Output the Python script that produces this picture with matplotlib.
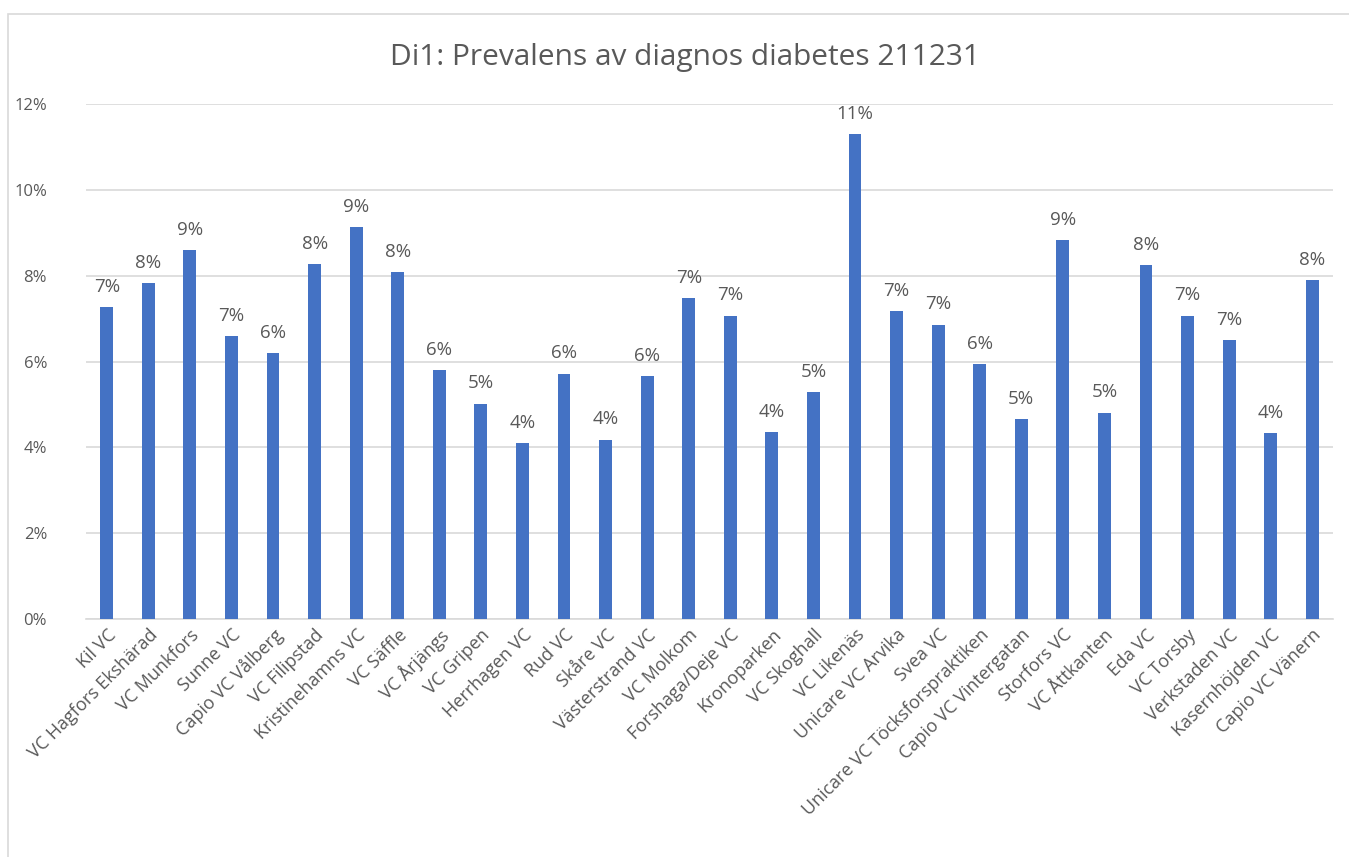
import matplotlib.pyplot as plt
from matplotlib.patches import Rectangle
from matplotlib.ticker import PercentFormatter

enheter = ['Kil VC', 'VC Hagfors Ekshärad', 'VC Munkfors', 'Sunne VC', 'Capio VC Vålberg',
           'VC Filipstad', 'Kristinehamns VC', 'VC Säffle', 'VC Årjängs', 'VC Gripen',
           'Herrhagen VC', 'Rud VC', 'Skåre VC', 'Västerstrand VC', 'VC Molkom',
           'Forshaga/Deje VC', 'Kronoparken', 'VC Skoghall', 'VC Likenäs', 'Unicare VC Arvika',
           'Svea VC', 'Unicare VC Töcksforspraktiken', 'Capio VC Vintergatan', 'Storfors VC',
           'VC Åttkanten', 'Eda VC', 'VC Torsby', 'Verkstaden VC', 'Kasernhöjden VC',
           'Capio VC Vänern']
prevalens = [0.0726, 0.0782, 0.0859, 0.0660, 0.0619, 0.0827, 0.0913, 0.0808, 0.0581, 0.0502,
             0.0411, 0.0572, 0.0418, 0.0567, 0.0748, 0.0707, 0.0435, 0.0528, 0.1130, 0.0717,
             0.0686, 0.0595, 0.0465, 0.0883, 0.0481, 0.0824, 0.0707, 0.0651, 0.0433, 0.0790]

W, H = 1349, 857
grey = '#595959'
blue = '#4472c4'
plt.rcParams['font.family'] = ['Open Sans', 'DejaVu Sans']

fig = plt.figure(figsize=(W / 100, H / 100), dpi=100)
# chart frame, open to the right and bottom edges
fig.patches.append(Rectangle((8 / W, -0.05), 1.1, 1.05 - 14 / H, transform=fig.transFigure,
                             fill=False, edgecolor='#d9d9d9', linewidth=1.2))

ax = fig.add_axes([86 / W, 1 - 619 / H, (1333 - 86) / W, (619 - 104) / H])
x = range(len(enheter))
ax.bar(x, prevalens, width=0.31, color=blue, zorder=3)

for xi, v in zip(x, prevalens):
    ax.annotate(f'{v * 100:.0f}%', (xi, v), xytext=(0, 8), textcoords='offset points',
                ha='center', va='bottom', fontsize=13.5, color=grey)

ax.set_xlim(-0.5, len(enheter) - 0.5)
ax.set_ylim(0, 0.12)
ax.set_yticks([0, 0.02, 0.04, 0.06, 0.08, 0.10, 0.12])
ax.yaxis.set_major_formatter(PercentFormatter(1.0, decimals=0))
ax.grid(axis='y', color='#d9d9d9', linewidth=1.2, zorder=0)
for s in ['top', 'right', 'left']:
    ax.spines[s].set_visible(False)
ax.spines['bottom'].set_color('#d9d9d9')
ax.spines['bottom'].set_linewidth(1.2)

ax.set_xticks(list(x))
ax.set_xticklabels(enheter, rotation=45, ha='right', rotation_mode='anchor')
ax.tick_params(axis='x', length=0, pad=5, labelsize=13, labelcolor=grey)
ax.tick_params(axis='y', length=0, pad=28, labelsize=12, labelcolor=grey)

fig.text((388 + 983) / 2 / W, 1 - 57 / H, 'Di1: Prevalens av diagnos diabetes 211231',
         ha='center', va='center', fontsize=21.5, color=grey)

fig.savefig('out.png', dpi=100)
